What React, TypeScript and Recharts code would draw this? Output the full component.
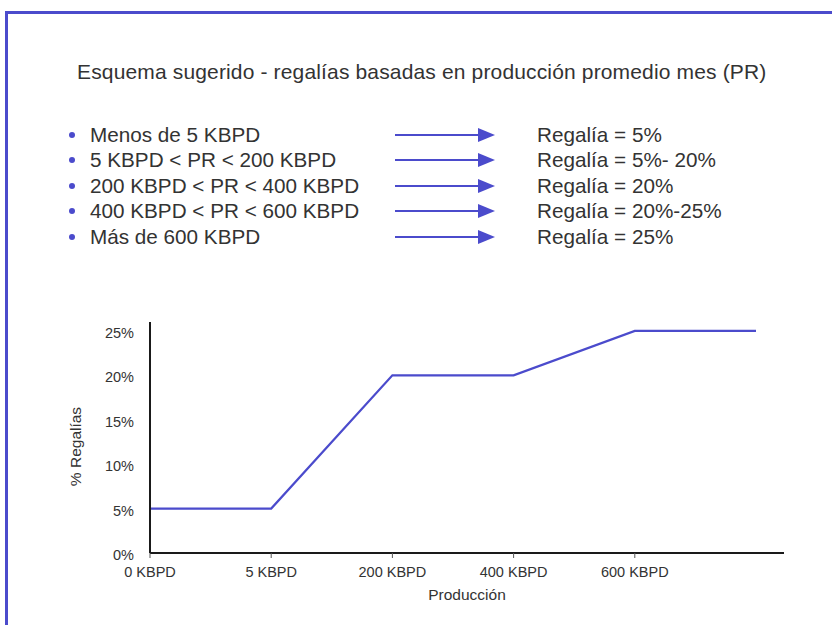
import React from 'react';
import { LineChart, Line, XAxis, YAxis } from 'recharts';

const categories = ['0 KBPD', '5 KBPD', '200 KBPD', '400 KBPD', '600 KBPD', ''];
const royalty = [5, 5, 20, 20, 25, 25];
const yTicks = [0, 5, 10, 15, 20, 25];
const bulletLabels = [
  'Menos de 5 KBPD',
  '5 KBPD < PR < 200 KBPD',
  '200 KBPD < PR < 400 KBPD',
  '400 KBPD < PR < 600 KBPD',
  'Más de 600 KBPD',
];
const royaltyLabels = [
  'Regalía = 5%',
  'Regalía = 5%- 20%',
  'Regalía = 20%',
  'Regalía = 20%-25%',
  'Regalía = 25%',
];
const title = 'Esquema sugerido - regalías basadas en producción promedio mes (PR)';
const xTitle = 'Producción';
const yTitle = '% Regalías';

const data = categories.map((c, i) => ({ idx: i, label: c, value: royalty[i] }));
const labeledIdx = categories.map((c, i) => (c ? i : -1)).filter((i) => i >= 0);

const BLUE = '#4b4bcc';
const TEXT = '#333333';
const FONT = '"Liberation Sans", Arial, Helvetica, sans-serif';

const rowY = [135, 160, 186, 211, 237];

export default function App() {
  return (
    <div
      style={{
        position: 'absolute',
        left: 0,
        top: 0,
        width: 832,
        height: 625,
        background: '#ffffff',
        overflow: 'hidden',
        fontFamily: FONT,
      }}
    >
      {/* frame */}
      <div
        style={{
          position: 'absolute',
          left: 5,
          top: 11,
          width: 840,
          height: 640,
          borderTop: `3px solid ${BLUE}`,
          borderLeft: `3px solid ${BLUE}`,
        }}
      />
      {/* title */}
      <div
        style={{
          position: 'absolute',
          left: 77,
          top: 60,
          fontSize: 21,
          color: TEXT,
          whiteSpace: 'nowrap',
          lineHeight: '24px',
          letterSpacing: 0.15,
        }}
      >
        {title}
      </div>
      {/* bullet list */}
      {bulletLabels.map((b, i) => (
        <React.Fragment key={i}>
          <div
            style={{
              position: 'absolute',
              left: 69,
              top: rowY[i] - 3,
              width: 6,
              height: 6,
              borderRadius: 3,
              background: BLUE,
            }}
          />
          <div
            style={{
              position: 'absolute',
              left: 90,
              top: rowY[i] - 12,
              fontSize: 20.7,
              lineHeight: '24px',
              color: TEXT,
              whiteSpace: 'nowrap',
            }}
          >
            {b}
          </div>
          <svg
            style={{ position: 'absolute', left: 390, top: rowY[i] - 10, overflow: 'visible' }}
            width={110}
            height={20}
          >
            <line x1={5} y1={10} x2={90} y2={10} stroke={BLUE} strokeWidth={2} />
            <polygon points="88,3 105,10 88,17" fill={BLUE} />
          </svg>
          <div
            style={{
              position: 'absolute',
              left: 537,
              top: rowY[i] - 12,
              fontSize: 20.7,
              lineHeight: '24px',
              color: TEXT,
              whiteSpace: 'nowrap',
            }}
          >
            {royaltyLabels[i]}
          </div>
        </React.Fragment>
      ))}
      {/* chart */}
      <div style={{ position: 'absolute', left: 0, top: 300 }}>
        <LineChart
          width={832}
          height={325}
          data={data}
          margin={{ top: 22, right: 48, left: 50, bottom: 32 }}
        >
          <XAxis
            type="number"
            dataKey="idx"
            domain={[0, categories.length - 1]}
            ticks={labeledIdx}
            tickFormatter={(v: number) => categories[v]}
            padding={{ left: 0, right: 28 }}
            height={40}
            axisLine={{ stroke: '#1a1a1a', strokeWidth: 2 }}
            tickLine={{ stroke: '#555', strokeWidth: 1 }}
            tickSize={5}
            tickMargin={9}
            tick={{ fill: TEXT, fontSize: 14.5, fontFamily: FONT }}
            interval={0}
            allowDecimals={false}
            label={{
              content: (props: any) => {
                const vb = props.viewBox || {};
                return (
                  <text
                    x={vb.x + vb.width / 2}
                    y={600 - 300}
                    textAnchor="middle"
                    fill={TEXT}
                    fontSize={15.5}
                    fontFamily={FONT}
                  >
                    {xTitle}
                  </text>
                );
              },
            }}
          />
          <YAxis
            type="number"
            domain={[0, 26]}
            ticks={yTicks}
            tickFormatter={(v: number) => `${v}%`}
            width={100}
            axisLine={{ stroke: '#1a1a1a', strokeWidth: 2 }}
            tickLine={false}
            tickSize={5}
            tickMargin={11}
            tick={{ fill: TEXT, fontSize: 14.5, fontFamily: FONT, dy: 2 }}
            label={{
              content: (props: any) => {
                const vb = props.viewBox || {};
                const cx = vb.x + 25;
                const cy = vb.y + vb.height / 2 + 9;
                return (
                  <text
                    x={cx}
                    y={cy}
                    textAnchor="middle"
                    dominantBaseline="central"
                    transform={`rotate(-90 ${cx} ${cy})`}
                    fill={TEXT}
                    fontSize={15.5}
                    fontFamily={FONT}
                  >
                    {yTitle}
                  </text>
                );
              },
            }}
          />
          <Line
            type="linear"
            dataKey="value"
            stroke={BLUE}
            strokeWidth={2.2}
            dot={false}
            activeDot={false}
            isAnimationActive={false}
          />
        </LineChart>
      </div>
    </div>
  );
}
